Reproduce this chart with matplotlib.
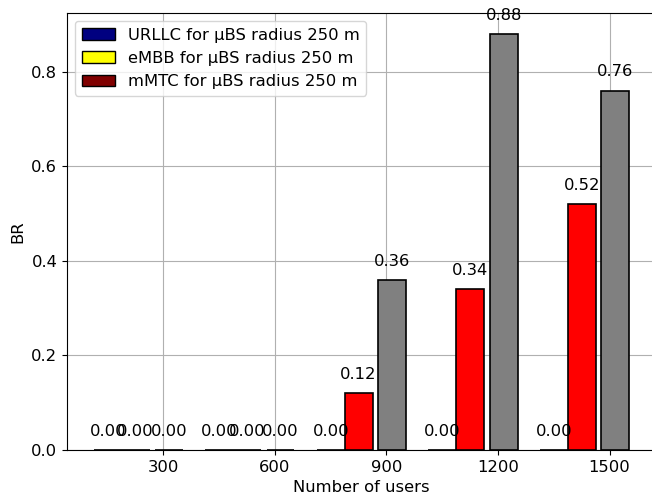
import matplotlib
matplotlib.use("Agg")
import matplotlib.pyplot as plt
import numpy as np
from matplotlib.patches import Patch

# Data
users = np.array([300, 600, 900, 1200, 1500])
br_urllc = [0.00, 0.00, 0.00, 0.00, 0.00]
br_embb = [0.00, 0.00, 0.12, 0.34, 0.52]
br_mmtc = [0.00, 0.00, 0.36, 0.88, 0.76]
legend_labels = ["URLLC for μBS radius 250 m", "eMBB for μBS radius 250 m", "mMTC for μBS radius 250 m"]
legend_colors = ["navy", "yellow", "maroon"]

FS = 11.8
plt.rcParams["font.size"] = FS

fig = plt.figure(figsize=(6.52, 5.0), dpi=100)
ax = fig.add_axes([0.1028, 0.1, 0.903, 0.874])

width = 75
series = [
    (br_urllc, -2 * width, "navy"),
    (br_embb, -width, "red"),
    (br_mmtc, 0.2 * width, "gray"),
]
for vals, off, col in series:
    bars = ax.bar(users + off, vals, width, color=col, edgecolor="black", linewidth=1.2, zorder=3)
    for b in bars:
        h = b.get_height()
        ax.annotate(f"{h:.2f}", (b.get_x() + b.get_width() / 2, h), xytext=(0, 8),
                    textcoords="offset points", ha="center", va="bottom", fontsize=FS, zorder=4)

handles = [Patch(facecolor=c, edgecolor="black", label=l) for c, l in zip(legend_colors, legend_labels)]
ax.legend(handles=handles, loc="upper left", fontsize=FS)

ax.set_xticks(users)
ax.set_xlabel("Number of users", fontsize=FS)
ax.set_ylabel("BR", fontsize=FS)
ax.grid(True, color="#b0b0b0", linewidth=0.8, zorder=0)
ax.set_axisbelow(True)

fig.savefig("out.png", dpi=100)
